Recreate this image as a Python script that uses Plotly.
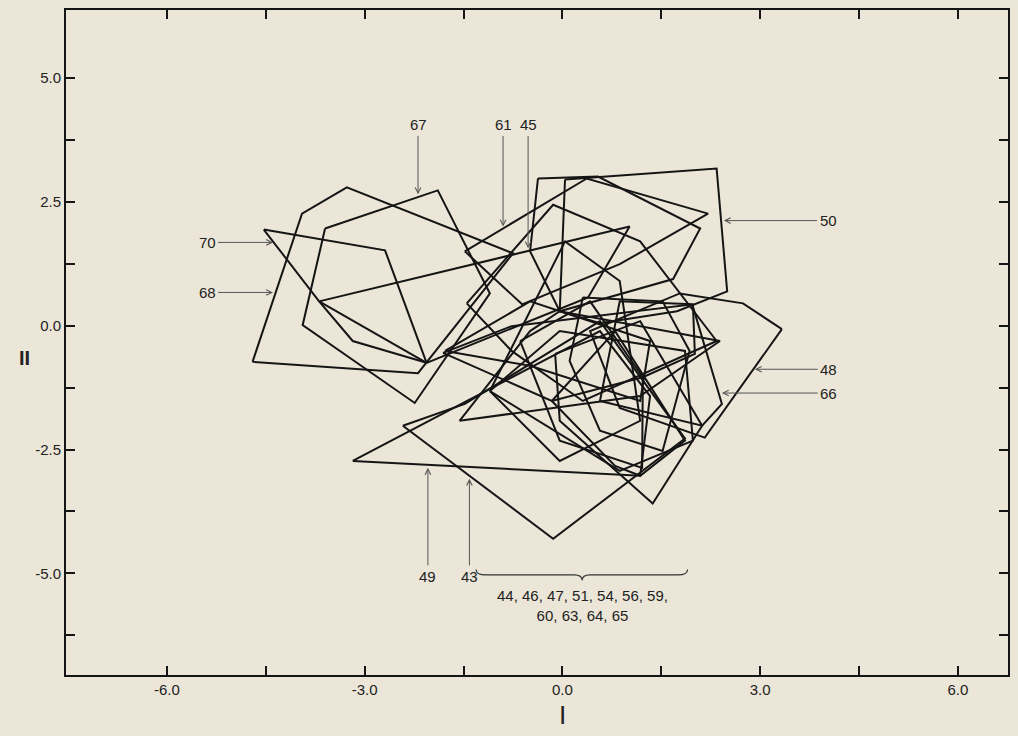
import plotly.graph_objects as go

# ---- polygon data (component I, component II) ----
P68_x = [-4.70, -3.95, -3.27, -0.75, -2.19]
P68_y = [-0.73, 2.26, 2.79, 1.46, -0.96]
P70_x = [-4.53, -2.69, -2.06, -3.18, -3.69]
P70_y = [1.94, 1.52, -0.75, -0.31, 0.49]
P67_x = [-3.60, -1.89, -1.10, -2.24, -3.94]
P67_y = [1.96, 2.73, 0.65, -1.56, 0.01]
P50_x = [0.04, 2.34, 2.50, 1.74, 0.57, -0.04]
P50_y = [2.95, 3.17, 0.69, 0.29, 0.05, 0.29]
P48_x = [3.33, 2.16, 0.87, 0.42, 1.78, 2.74]
P48_y = [-0.07, -2.26, -1.66, -0.11, 0.65, 0.45]
P66_x = [1.97, 2.42, 2.12, 0.57, 0.87]
P66_y = [0.43, -1.58, -2.02, -1.52, 0.49]
P43_x = [-2.42, -1.48, 0.57, 1.86, -0.14]
P43_y = [-2.02, -1.58, 0.09, -2.28, -4.30]
P49_x = [-3.18, -1.40, 0.57, 1.33, 1.18]
P49_y = [-2.73, -1.48, -0.11, -1.42, -3.03]
P45_x = [-3.69, 1.02, 0.39, -2.06]
P45_y = [0.49, 2.00, 0.57, -0.75]
P61_x = [-1.48, 0.37, 2.21, 0.87, -0.61]
P61_y = [1.50, 2.97, 2.26, 1.24, 0.43]
C2_x = [-0.37, 0.54, 2.09, 1.68, -0.04, -0.49]
C2_y = [2.97, 3.01, 1.96, 0.94, 0.29, 1.50]
C3_x = [-1.45, -0.14, 1.18, 2.34, 0.31, -0.77]
C3_y = [0.45, 2.44, 1.70, -0.31, -1.52, -0.51]
C4_x = [-1.81, -0.77, 1.98, 2.01, 1.22, -0.16]
C4_y = [-0.55, -0.01, 0.43, -0.57, -1.04, -1.52]
C5_x = [-0.11, 1.18, 2.12, 1.37, -0.04]
C5_y = [-0.57, 0.09, -2.02, -3.59, -1.92]
C6_x = [-0.16, 0.80, 1.86, 1.18, 0.80]
C6_y = [-1.52, -0.11, -2.32, -3.03, -2.83]
C7_x = [0.31, 1.52, 1.93, 1.52, 0.57, 0.11]
C7_y = [0.57, 0.49, -0.51, -2.53, -2.12, -0.71]
C8_x = [-0.64, 0.42, 1.22, 1.21, -0.04]
C8_y = [-0.31, 0.49, -1.04, -2.87, -2.32]
C9_x = [-1.10, 0.04, 0.87, 1.18, -0.04]
C9_y = [-1.32, 1.70, 0.90, -1.92, -2.73]
C10_x = [-1.78, -0.49, 1.33, 1.18, -0.49]
C10_y = [-0.51, 0.49, -0.31, -1.52, -0.81]
C11_x = [-1.56, -0.49, -0.04, 2.39, 1.18]
C11_y = [-1.92, -0.11, 0.29, -0.31, -1.42]
C12_x = [-1.10, -0.04, 1.86, 1.98, 0.87]
C12_y = [-1.32, -0.11, -0.51, -2.32, -2.93]

polygons = [
    (P68_x, P68_y), (P70_x, P70_y), (P67_x, P67_y), (P50_x, P50_y),
    (P48_x, P48_y), (P66_x, P66_y), (P43_x, P43_y), (P49_x, P49_y),
    (P45_x, P45_y), (P61_x, P61_y),
    (C2_x, C2_y), (C3_x, C3_y), (C4_x, C4_y), (C5_x, C5_y), (C6_x, C6_y),
    (C7_x, C7_y), (C8_x, C8_y), (C9_x, C9_y), (C10_x, C10_y), (C11_x, C11_y),
    (C12_x, C12_y),
]

# ---- label annotations: text, tip (x, y), label (x, y) ----
ann_text = ["67", "61", "45", "70", "68", "50", "48", "66", "49", "43"]
ann_tip_x = [-2.19, -0.90, -0.52, -4.39, -4.39, 2.45, 2.92, 2.42, -2.04, -1.41]
ann_tip_y = [2.65, 2.00, 1.56, 1.68, 0.67, 2.12, -0.88, -1.36, -2.87, -3.09]
ann_lab_x = [-2.19, -0.90, -0.52, -5.39, -5.39, 4.03, 4.04, 4.04, -2.04, -1.41]
ann_lab_y = [4.05, 4.05, 4.05, 1.68, 0.67, 2.12, -0.88, -1.36, -5.06, -5.06]

brace_label = "44, 46, 47, 51, 54, 56, 59,<br>60, 63, 64, 65"

x_tickvals = [-6.0, -4.5, -3.0, -1.5, 0.0, 1.5, 3.0, 4.5, 6.0]
x_ticktext = ["-6.0", "", "-3.0", "", "0.0", "", "3.0", "", "6.0"]
y_tickvals = [5.0, 3.75, 2.5, 1.25, 0.0, -1.25, -2.5, -3.75, -5.0, -6.25]
y_ticktext = ["5.0", "", "2.5", "", "0.0", "", "-2.5", "", "-5.0", ""]

BG = "#ebe6d8"
INK = "#151515"
FONT = "Liberation Sans, Arial, sans-serif"

fig = go.Figure()
for px, py in polygons:
    fig.add_trace(go.Scatter(
        x=list(px) + [px[0]], y=list(py) + [py[0]], mode="lines",
        line=dict(color=INK, width=2), hoverinfo="skip", showlegend=False))

for t, tx, ty, lx, ly in zip(ann_text, ann_tip_x, ann_tip_y, ann_lab_x, ann_lab_y):
    fig.add_annotation(
        x=tx, y=ty, ax=lx, ay=ly, xref="x", yref="y", axref="x", ayref="y",
        text=t, showarrow=True, arrowhead=5, arrowsize=1.1, arrowwidth=1,
        arrowcolor="#555555", font=dict(family=FONT, size=15, color="#222"),
        borderpad=2)

# brace under central cluster
bx0, bx1, bxm = -1.31, 1.90, 0.30
by0, by1, bym = -4.92, -5.03, -5.14
fig.add_shape(type="path", xref="x", yref="y",
              path=(f"M {bx0},{by0} Q {bx0},{by1} {bx0+0.15},{by1} L {bxm-0.12},{by1} "
                    f"Q {bxm},{by1} {bxm},{bym} Q {bxm},{by1} {bxm+0.12},{by1} "
                    f"L {bx1-0.15},{by1} Q {bx1},{by1} {bx1},{by0}"),
              line=dict(color="#333", width=1.2))
fig.add_annotation(x=bxm, y=-5.65, xref="x", yref="y", text=brace_label, showarrow=False,
                   font=dict(family=FONT, size=15, color="#222"), align="center")

# axis titles
fig.add_annotation(x=(562.5 - 66) / 942, y=-0.085, xref="paper", yref="paper", text="I",
                   showarrow=False, font=dict(family=FONT, size=26, color="#222"))
fig.add_annotation(x=-0.052, y=0.476, xref="paper", yref="paper", text="<b>II</b>",
                   showarrow=False, font=dict(family=FONT, size=20, color="#222"))

axis_common = dict(showgrid=False, zeroline=False, showline=True, linecolor=INK, linewidth=2,
                   mirror="allticks", ticks="inside", ticklen=9, tickwidth=1.5, tickcolor=INK,
                   tickfont=dict(family=FONT, size=15, color="#222"))
fig.update_xaxes(range=[-7.53, 6.76], tickvals=x_tickvals, ticktext=x_ticktext, **axis_common)
fig.update_yaxes(range=[-7.05, 6.37], tickvals=y_tickvals, ticktext=y_ticktext, **axis_common)

fig.update_layout(width=1018, height=736, margin=dict(l=66, r=10, t=8, b=61),
                  paper_bgcolor=BG, plot_bgcolor=BG, showlegend=False)
fig.write_html("out.html", config={"displayModeBar": False},
               post_script="document.body.style.margin='0';document.body.style.background='%s';" % BG)
